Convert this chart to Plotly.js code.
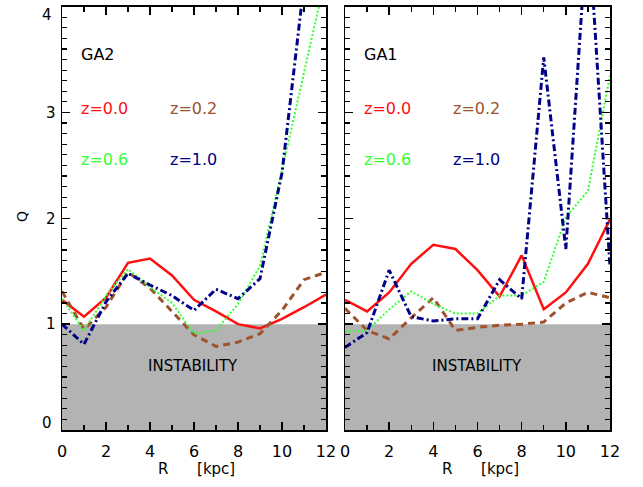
<!DOCTYPE html>
<html>
<head>
<meta charset="utf-8">
<script src="https://cdn.plot.ly/plotly-3.0.1.min.js"></script>
<style>
html,body{margin:0;padding:0;background:#fff;}
#chart{width:643px;height:487px;}
</style>
</head>
<body>
<div id="chart"></div>
<script>
// Radius in kpc
var R = [0, 1, 2, 3, 4, 5, 6, 7, 8, 9, 10, 11, 12];

// GA2 (left panel) Toomre Q
var ga2_z00 = [1.23, 1.07, 1.25, 1.58, 1.62, 1.46, 1.23, 1.12, 1.00, 0.96, 1.05, 1.16, 1.28];
var ga2_z02 = [1.31, 0.95, 1.16, 1.49, 1.34, 1.12, 0.90, 0.79, 0.83, 0.91, 1.13, 1.42, 1.49];
var ga2_z06 = [1.24, 0.94, 1.27, 1.52, 1.35, 1.20, 0.91, 0.94, 1.19, 1.55, 2.45, 3.35, 4.30];
var ga2_z10 = [1.00, 0.81, 1.21, 1.48, 1.37, 1.27, 1.13, 1.33, 1.24, 1.43, 2.43, 4.40, 6.00];

// GA1 (right panel) Toomre Q
var ga1_z00 = [1.23, 1.12, 1.30, 1.57, 1.75, 1.71, 1.51, 1.26, 1.65, 1.14, 1.30, 1.57, 1.99];
var ga1_z02 = [1.15, 0.94, 0.86, 1.06, 1.25, 0.94, 0.97, 0.99, 1.00, 1.02, 1.20, 1.30, 1.25];
var ga1_z06 = [0.93, 0.94, 1.14, 1.31, 1.19, 1.10, 1.10, 1.27, 1.27, 1.40, 2.01, 2.26, 3.35];
var ga1_z10 = [0.78, 0.92, 1.51, 1.07, 1.03, 1.05, 1.05, 1.42, 1.24, 3.52, 1.71, 4.85, 1.54];

var seriesNames = ['z=0.0', 'z=0.2', 'z=0.6', 'z=1.0'];
var panelNames = ['GA2', 'GA1'];
var xTicks = [0, 2, 4, 6, 8, 10, 12];
var yTicks = [0, 1, 2, 3, 4];

var colors = ['#ff0f0f', '#a0522d', '#33ff33', '#000088'];
var lineStyles = [
  {width: 2.5, dash: 'solid'},
  {width: 3, dash: '7px,5px'},
  {width: 2, dash: '2px,2px'},
  {width: 3, dash: '7px,3px,2px,3px'}
];

var panels = [[ga2_z00, ga2_z02, ga2_z06, ga2_z10], [ga1_z00, ga1_z02, ga1_z06, ga1_z10]];
var traces = [];
panels.forEach(function (p, pi) {
  p.forEach(function (ys, si) {
    traces.push({
      x: R, y: ys, type: 'scatter', mode: 'lines',
      name: seriesNames[si],
      xaxis: pi === 0 ? 'x' : 'x2',
      yaxis: pi === 0 ? 'y' : 'y2',
      line: {color: colors[si], width: lineStyles[si].width, dash: lineStyles[si].dash},
      showlegend: false, hoverinfo: 'skip'
    });
  });
});

var W = 643, H = 487;
var yDom = [(H - 430) / H, (H - 6.6) / H];
var font = {family: 'DejaVu Sans, sans-serif', size: 15, color: '#000'};

function xax(dom, showLabels) {
  return {
    domain: dom, range: [0, 12], tickvals: xTicks, ticktext: xTicks.map(String),
    ticks: 'inside', ticklen: 8, tickwidth: 1.5, tickcolor: '#000',
    minor: {ticks: 'inside', dtick: 1, ticklen: 5, tickwidth: 1.2, tickcolor: '#000'},
    mirror: 'ticks', showline: true, linecolor: '#000', linewidth: 1.5,
    showgrid: false, zeroline: false, showticklabels: showLabels,
    ticklabelstandoff: 6, ticklabeloverflow: 'allow',
    tickfont: {family: 'DejaVu Sans, sans-serif', size: 16, color: '#000'}, fixedrange: true
  };
}
// IDL-style: the end labels (0 and 4) sit inside the axis span, drawn as separate texts below
var yInner = yTicks.map(function (v, i) { return (i === 0 || i === yTicks.length - 1) ? '' : String(v); });
function yax(anchor, showLabels) {
  return {
    domain: yDom, range: [0, 4], tickvals: yTicks, ticktext: yInner,
    anchor: anchor,
    ticks: 'inside', ticklen: 8, tickwidth: 1.5, tickcolor: '#000',
    minor: {ticks: 'inside', dtick: 0.1, ticklen: 5, tickwidth: 1.2, tickcolor: '#000'},
    mirror: 'ticks', showline: true, linecolor: '#000', linewidth: 1.5,
    showgrid: false, zeroline: false, showticklabels: showLabels,
    ticklabeloverflow: 'allow', ticklabelstandoff: 2,
    tickfont: {family: 'DejaVu Sans, sans-serif', size: 15, color: '#000'}, fixedrange: true
  };
}

var xDom1 = [62 / W, 326 / W];
var xDom2 = [345 / W, 610 / W];

var shapes = [
  {type: 'rect', xref: 'x domain', yref: 'y', x0: 0, x1: 1, y0: 0, y1: 1, fillcolor: '#b3b3b3', line: {width: 0}, layer: 'below'},
  {type: 'rect', xref: 'x2 domain', yref: 'y2', x0: 0, x1: 1, y0: 0, y1: 1, fillcolor: '#b3b3b3', line: {width: 0}, layer: 'below'}
];

var annotations = [];
[['x', 'y'], ['x2', 'y2']].forEach(function (ax, pi) {
  var xr = ax[0] + ' domain', yr = ax[1] + ' domain';
  annotations.push({xref: xr, yref: yr, x: 0.063, y: 0.886, text: panelNames[pi], showarrow: false, xanchor: 'left', yanchor: 'middle', font: {family: font.family, size: 16, color: '#000'}});
  var pos = [[0.066, 0.760], [0.40, 0.760], [0.066, 0.638], [0.40, 0.638]];
  seriesNames.forEach(function (n, si) {
    annotations.push({xref: xr, yref: yr, x: pos[si][0], y: pos[si][1], text: n, showarrow: false, xanchor: 'left', yanchor: 'middle', font: {family: font.family, size: 16, color: colors[si]}});
  });
  annotations.push({xref: xr, yref: ax[1], x: 0.497, y: 0.6, text: 'INSTABILITY', showarrow: false, xanchor: 'center', yanchor: 'middle', font: {family: font.family, size: 15, color: '#000'}});
  annotations.push({xref: 'paper', yref: 'paper', x: (pi === 0 ? 196 : 480) / W, y: (H - 469) / H, text: 'R\u00a0\u00a0\u00a0\u00a0\u00a0\u00a0[kpc]', showarrow: false, xanchor: 'center', yanchor: 'middle', font: {family: font.family, size: 15, color: '#000'}});
});
annotations.push({xref: 'paper', yref: 'paper', x: 22 / W, y: (H - 217) / H, text: 'Q', textangle: -90, showarrow: false, xanchor: 'center', yanchor: 'middle', font: {family: font.family, size: 14, color: '#000'}});
// end labels of the y axis (0 and 4), nudged inside like IDL does
annotations.push({xref: 'paper', yref: 'paper', x: 54 / W, y: (H - 15) / H, text: String(yTicks[yTicks.length - 1]), showarrow: false, xanchor: 'right', yanchor: 'middle', font: {family: font.family, size: 15, color: '#000'}});
annotations.push({xref: 'paper', yref: 'paper', x: 54 / W, y: (H - 423) / H, text: String(yTicks[0]), showarrow: false, xanchor: 'right', yanchor: 'middle', font: {family: font.family, size: 15, color: '#000'}});

var layout = {
  width: W, height: H,
  margin: {l: 0, r: 0, t: 0, b: 0},
  paper_bgcolor: '#fff', plot_bgcolor: 'rgba(0,0,0,0)',
  font: font,
  xaxis: Object.assign(xax(xDom1, true), {anchor: 'y'}),
  yaxis: yax('x', true),
  xaxis2: Object.assign(xax(xDom2, true), {anchor: 'y2'}),
  yaxis2: yax('x2', false),
  shapes: shapes,
  annotations: annotations,
  showlegend: false
};

Plotly.newPlot('chart', traces, layout, {displayModeBar: false, staticPlot: true});
</script>
</body>
</html>
